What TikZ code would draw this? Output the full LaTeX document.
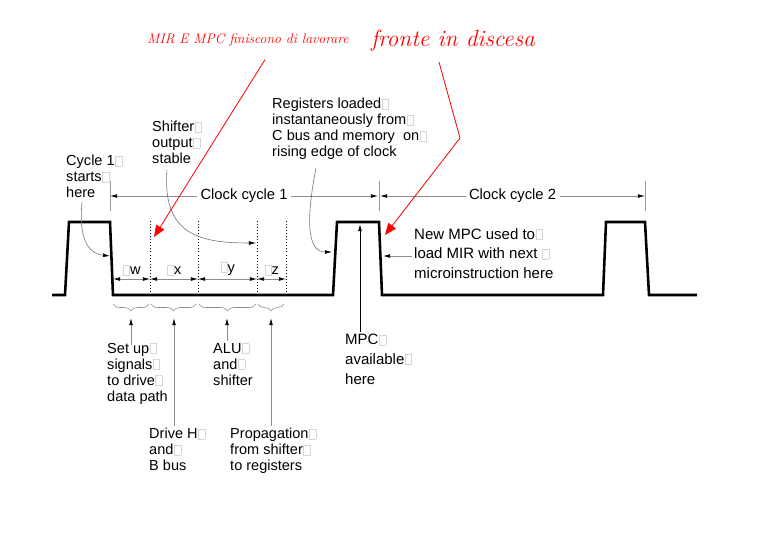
\documentclass[tikz,border=0pt]{standalone}
\usepackage{fontspec}
\setsansfont{Liberation Sans}
\usetikzlibrary{arrows.meta,decorations.pathreplacing,calc}

% grey box left by a missing glyph
\newcommand{\nogl}{\kern0.5pt{\color{black!16}\fboxsep=0pt\fboxrule=0.5pt\fbox{\rule{0pt}{8pt}\hspace{5pt}}}}

\tikzset{
  wave/.style={line width=2.2pt, line join=miter},
  lbl/.style={font=\sffamily\fontsize{12.4}{13.6}\selectfont, align=left, inner sep=0pt, anchor=north west},
  lblwide/.style={lbl, font=\sffamily\fontsize{12.8}{16.8}\selectfont},
  tick/.style={black!40, line width=0.6pt},
  dimline/.style={black!45, line width=0.6pt, {Latex[length=6pt,width=3.2pt,color=black]}-{Latex[length=6pt,width=3.2pt,color=black]}},
  uparr/.style={black!45, line width=0.6pt, -{Latex[length=6pt,width=3.2pt,color=black]}},
  bentptr/.style={black!55, line width=0.5pt, -{Latex[length=6pt,width=3.2pt,color=black]}},
  brc/.style={black!45, line width=0.5pt, decorate, decoration={brace, mirror, amplitude=6pt}},
  redarr/.style={red, line width=0.7pt, -{Triangle[length=10pt,width=8pt]}},
  hand/.style={red, font=\rmfamily\itshape, inner sep=1pt}
}

\begin{document}
\begin{tikzpicture}[x=0.03cm, y=-0.03cm]
  \useasboundingbox (0,0) rectangle (768,548);

  % clock
  \draw[wave] (52,295) -- (65,295) -- (69,222) -- (110,222) -- (113,295)
    -- (333,295) -- (337,222) -- (379,222) -- (382,295)
    -- (603,295) -- (606,222) -- (645,222) -- (649,295) -- (697,295);

  \foreach \xx in {150,198,257,286}
    \draw[dotted, line width=0.6pt] (\xx,221) -- (\xx,295);

  % clock cycles
  \foreach \xx in {110,379,645}
    \draw[tick] (\xx,181) -- (\xx,211);
  \coordinate (c1a) at (110,196);
  \coordinate (c1b) at (378,196);
  \coordinate (c2a) at (380,196);
  \coordinate (c2b) at (645,196);
  \draw[dimline] (c1a) -- (c1b) node[midway, fill=white, text=black, font=\sffamily\fontsize{12.6}{14}\selectfont, inner sep=3pt] (cc1) {Clock cycle 1};
  \draw[dimline] (c2a) -- (c2b) node[midway, fill=white, text=black, font=\sffamily\fontsize{12.6}{14}\selectfont, inner sep=3pt] (cc2) {Clock cycle 2};

  % sub intervals
  \coordinate (p0) at (113,279);
  \coordinate (p1) at (150,279);
  \coordinate (p2) at (198,279);
  \coordinate (p3) at (257,279);
  \coordinate (p4) at (286,279);
  \draw[dimline] (p0) -- (p1) node[midway, above=2pt, text=black, font=\sffamily\fontsize{12.4}{14}\selectfont, inner sep=1pt] (lw) {\nogl w};
  \draw[dimline] (p1) -- (p2) node[midway, above=2pt, text=black, font=\sffamily\fontsize{12.4}{14}\selectfont, inner sep=1pt] (lx) {\nogl x};
  \draw[dimline] (p2) -- (p3) node[midway, above=2pt, text=black, font=\sffamily\fontsize{12.4}{14}\selectfont, inner sep=1pt] (ly) {\nogl y};
  \draw[dimline] (p3) -- (p4) node[midway, above=2pt, text=black, font=\sffamily\fontsize{12.4}{14}\selectfont, inner sep=1pt] (lz) {\nogl z};

  \draw[brc] (113,304) -- (149,304);
  \draw[brc] (151,304) -- (196,304);
  \draw[brc] (199,304) -- (256,304);
  \draw[brc] (258,304) -- (284,304);

  % texts
  \node[lbl] (cyc) at (66,155) {Cycle 1\nogl\\starts\nogl\\here};
  \node[lbl] (shf) at (152,121) {Shifter\nogl\\output\nogl\\stable};
  \node[lbl] (reg) at (272,98) {Registers loaded\nogl\\instantaneously from\nogl\\C bus and memory\ \ on\nogl\\rising edge of clock};
  \node[lblwide] (newmpc) at (414,228) {New MPC used to\nogl\\load MIR with next \nogl\\microinstruction here};
  \node[lbl] (setup) at (107,343) {Set up\nogl\\signals\nogl\\to drive\nogl\\data path};
  \node[lbl] (alu) at (213,343) {ALU\nogl\\and\nogl\\shifter};
  \node[lbl] (drvh) at (149,428) {Drive H\nogl\\and\nogl\\B bus};
  \node[lbl] (prop) at (230,428) {Propagation\nogl\\from shifter\nogl\\to registers};
  \node[lblwide] (mpc) at (345,334) {MPC\nogl\\available\nogl\\here};

  % arrows up to the braces
  \coordinate (b1) at (131,318);
  \coordinate (b2) at (174,318);
  \coordinate (b3) at (227,318);
  \coordinate (b4) at (271,318);
  \draw[uparr] ([yshift=-2pt]setup.north -| b1) -- (b1);
  \draw[uparr] ([yshift=2pt]drvh.north -| b2) -- (b2);
  \draw[uparr] ([yshift=2pt]alu.north -| b3) -- (b3);
  \draw[uparr] ([yshift=2pt]prop.north -| b4) -- (b4);

  \coordinate (mpctip) at (360,224);
  \draw[line width=0.6pt, -{Latex[length=6pt,width=3.2pt]}] ([yshift=2pt]mpc.north -| mpctip) -- (mpctip);

  \coordinate (newtip) at (383,256);
  \draw[uparr] (newmpc.west |- newtip) ++(-2,0) -- (newtip);

  % bent pointers
  \coordinate (fall1) at (110,256);
  \coordinate (stab) at (256,243);
  \coordinate (rise2) at (332,252);
  \draw[bentptr] ($(cyc.south west)+(16,4)$) .. controls (78,245) and (92,254) .. (fall1);
  \draw[bentptr] ($(shf.south west)+(15,6)$) .. controls (162,235) and (200,243) .. (stab);
  \draw[bentptr] ($(reg.south west)+(44,8)$) .. controls (304,230) and (310,252) .. (rise2);

  % red notes
  \node[hand, font=\rmfamily\itshape\fontsize{11.8}{13}\selectfont] (mir) at (248,40) {MIR E MPC finiscono di lavorare};
  \node[hand, font=\rmfamily\itshape\fontsize{20}{22}\selectfont] (disc) at (453,41) {fronte in discesa};
  \coordinate (rtip1) at (154,237);
  \coordinate (rtip2) at (385,235);
  \coordinate (rkink) at (460,138);
  \draw[redarr] ($(mir.south)+(17,12)$) -- (rtip1);
  \draw[redarr] ($(disc.south)+(-14,9)$) -- (rkink) -- (rtip2);
\end{tikzpicture}
\end{document}
